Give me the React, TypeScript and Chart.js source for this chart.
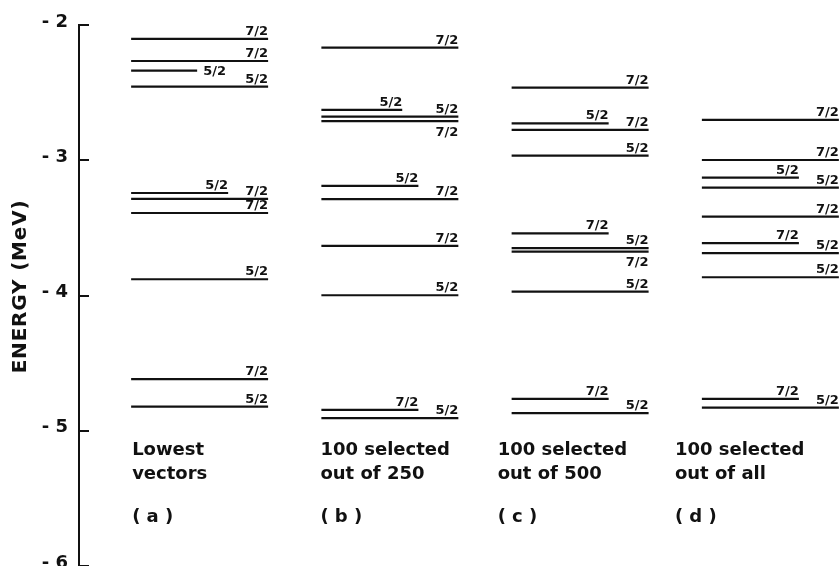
import React, { useEffect, useRef } from "react";
import { Chart, registerables } from "chart.js";

Chart.register(...registerables);

// ---- data ----
const columnIds = ["a", "b", "c", "d"];
const captionLine1 = ["Lowest", "100 selected", "100 selected", "100 selected"];
const captionLine2 = ["vectors", "out of 250", "out of 500", "out of all"];
const captionTags = ["( a )", "( b )", "( c )", "( d )"];

const yTicks = [-6, -5, -4, -3, -2];

// (a) Lowest vectors
const levelsA = [-2.103, -2.266, -2.338, -2.456, -3.242, -3.286, -3.39, -3.88, -4.619, -4.821];
const spinsA = ["7/2", "7/2", "5/2", "5/2", "5/2", "7/2", "7/2", "5/2", "7/2", "5/2"];
const kindsA = ["full", "full", "stub", "full", "short", "full", "full", "full", "full", "full"];

// (b) 100 selected out of 250
const levelsB = [-2.168, -2.628, -2.678, -2.71, -3.19, -3.288, -3.633, -3.998, -4.845, -4.907];
const spinsB = ["7/2", "5/2", "5/2", "7/2", "5/2", "7/2", "7/2", "5/2", "7/2", "5/2"];
const kindsB = ["full", "mid", "full", "below", "short", "full", "full", "full", "short", "full"];

// (c) 100 selected out of 500
const levelsC = [-2.463, -2.727, -2.776, -2.966, -3.54, -3.65, -3.675, -3.971, -4.764, -4.87];
const spinsC = ["7/2", "5/2", "7/2", "5/2", "7/2", "5/2", "7/2", "5/2", "7/2", "5/2"];
const kindsC = ["full", "short", "full", "full", "short", "full", "below", "full", "short", "full"];

// (d) 100 selected out of all
const levelsD = [-2.702, -2.998, -3.129, -3.202, -3.417, -3.613, -3.687, -3.865, -4.764, -4.829];
const spinsD = ["7/2", "7/2", "5/2", "5/2", "7/2", "7/2", "5/2", "5/2", "7/2", "5/2"];
const kindsD = ["full", "full", "short", "full", "full", "short", "full", "full", "short", "full"];

const allLevels = [levelsA, levelsB, levelsC, levelsD];
const allSpins = [spinsA, spinsB, spinsC, spinsD];
const allKinds = [kindsA, kindsB, kindsC, kindsD];

// ---- style ----
const FONT = "'DejaVu Sans', sans-serif";
const INK = "#111";
const COL_START = 0.274;
const LINE_LEN: Record<string, number> = { full: 0.72, below: 0.72, short: 0.51, mid: 0.425, stub: 0.347 };
const CAPTION_DX = [1, -1, -14, -27];

export default function App() {
  const ref = useRef<HTMLCanvasElement | null>(null);

  useEffect(() => {
    const canvas = ref.current;
    if (!canvas) return;

    const datasets: any[] = [];
    allLevels.forEach((levels, ci) => {
      levels.forEach((e, li) => {
        const kind = allKinds[ci][li];
        const x0 = ci + COL_START;
        datasets.push({
          label: `${columnIds[ci]} ${allSpins[ci][li]}`,
          data: [
            { x: x0, y: e },
            { x: x0 + LINE_LEN[kind], y: e },
          ],
          borderColor: INK,
          borderWidth: 2.2,
          pointRadius: 0,
          fill: false,
          _spin: allSpins[ci][li],
          _kind: kind,
        });
      });
    });

    const decor = {
      id: "decor",
      afterDatasetsDraw(chart: any) {
        const ctx = chart.ctx;
        ctx.save();
        ctx.fillStyle = INK;
        ctx.font = `bold 13px ${FONT}`;
        chart.data.datasets.forEach((ds: any, i: number) => {
          const meta = chart.getDatasetMeta(i);
          const end = meta.data[1];
          if (!end) return;
          const x = end.x;
          const y = end.y;
          if (ds._kind === "below") {
            ctx.textAlign = "right";
            ctx.textBaseline = "top";
            ctx.fillText(ds._spin, x, y + 5);
          } else if (ds._kind === "stub") {
            ctx.textAlign = "left";
            ctx.textBaseline = "middle";
            ctx.fillText(ds._spin, x + 6, y + 1);
          } else {
            ctx.textAlign = "right";
            ctx.textBaseline = "alphabetic";
            ctx.fillText(ds._spin, x, y - 4);
          }
        });
        ctx.restore();
      },
      afterDraw(chart: any) {
        const ctx = chart.ctx;
        const ys = chart.scales.y;
        const xs = chart.scales.x;
        const area = chart.chartArea;
        ctx.save();
        // inward tick marks
        ctx.strokeStyle = INK;
        ctx.lineWidth = 2;
        ys.ticks.forEach((t: any) => {
          const py = Math.round(ys.getPixelForValue(t.value));
          ctx.beginPath();
          ctx.moveTo(area.left - 1, py);
          ctx.lineTo(area.left + 10, py);
          ctx.stroke();
        });
        // axis title
        ctx.fillStyle = INK;
        ctx.font = `bold 20px ${FONT}`;
        (ctx as any).letterSpacing = "0.8px";
        ctx.translate(21, (area.top + area.bottom) / 2 - 9);
        ctx.rotate(-Math.PI / 2);
        ctx.textAlign = "center";
        ctx.textBaseline = "middle";
        ctx.fillText("ENERGY (MeV)", 0, 0);
        ctx.restore();

        // column captions
        ctx.save();
        ctx.fillStyle = INK;
        ctx.font = `bold 18px ${FONT}`;
        ctx.textAlign = "left";
        ctx.textBaseline = "alphabetic";
        const base = ys.getPixelForValue(-5);
        columnIds.forEach((_, ci) => {
          const x = xs.getPixelForValue(ci + COL_START) + CAPTION_DX[ci];
          ctx.fillText(captionLine1[ci], x, base + 24);
          ctx.fillText(captionLine2[ci], x, base + 48);
          ctx.fillText(captionTags[ci], x, base + 91);
        });
        ctx.restore();
      },
    };

    const chart = new Chart(canvas, {
      type: "line",
      data: { datasets },
      options: {
        animation: false,
        responsive: false,
        events: [],
        layout: { padding: { top: 25, right: 0, bottom: 0, left: 0 } },
        plugins: { legend: { display: false }, tooltip: { enabled: false }, title: { display: false } },
        scales: {
          x: { type: "linear", min: 0, max: 4, display: false },
          y: {
            type: "linear",
            min: -6,
            max: -2,
            afterFit: (s: any) => {
              s.width = 79;
              s.paddingTop = 0;
              s.paddingBottom = 0;
            },
            afterBuildTicks: (s: any) => {
              s.ticks = yTicks.map((v) => ({ value: v }));
            },
            grid: { display: false, drawTicks: false },
            border: { display: true, color: INK, width: 2 },
            ticks: {
              padding: 11,
              labelOffset: -3,
              color: INK,
              font: { family: FONT, size: 18, weight: "bold" },
              callback: (v: any) => "- " + Math.abs(Number(v)),
            },
          },
        },
      },
      plugins: [decor],
    });

    return () => chart.destroy();
  }, []);

  return (
    <div style={{ position: "absolute", left: 0, top: 0, width: 840, height: 566, background: "#fff" }}>
      <canvas ref={ref} width={840} height={566} style={{ display: "block" }} />
    </div>
  );
}
